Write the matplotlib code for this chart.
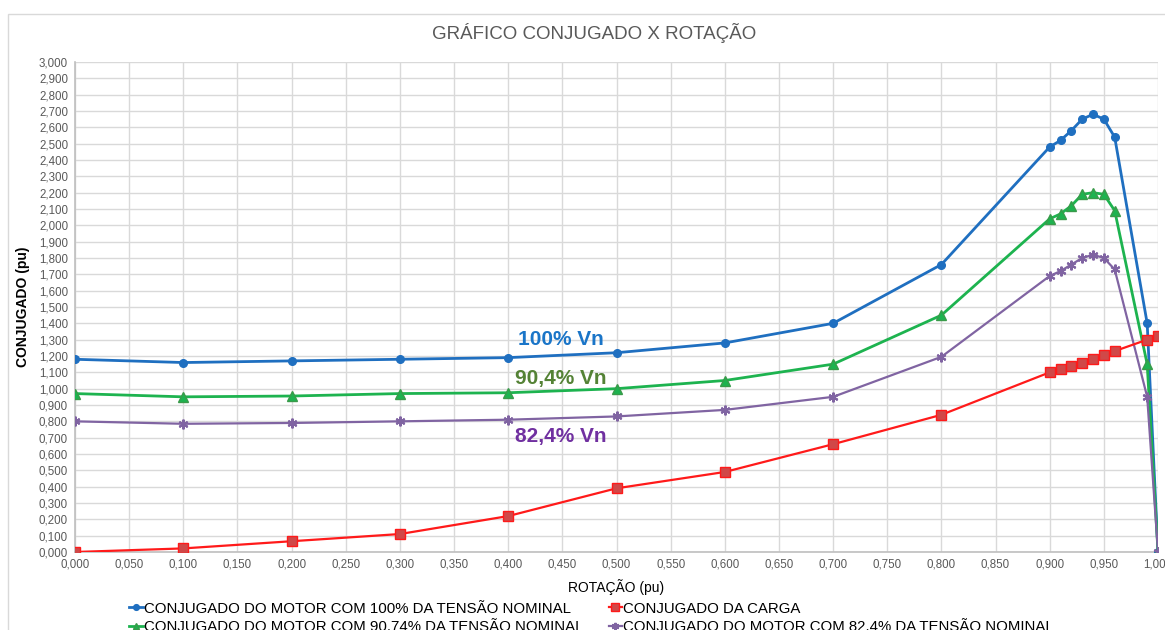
import matplotlib
matplotlib.use("Agg")
import matplotlib.pyplot as plt
from matplotlib.patches import Rectangle
from matplotlib.ticker import MultipleLocator, FuncFormatter

# Dados
rotacao = [0.0, 0.1, 0.2, 0.3, 0.4, 0.5, 0.6, 0.7, 0.8, 0.9,
           0.91, 0.92, 0.93, 0.94, 0.95, 0.96, 0.99, 1.0]
motor_100 = [1.18, 1.16, 1.17, 1.18, 1.19, 1.22, 1.28, 1.40, 1.76, 2.48,
             2.52, 2.58, 2.65, 2.68, 2.65, 2.54, 1.40, 0.0]
motor_904 = [0.97, 0.95, 0.955, 0.97, 0.975, 1.00, 1.05, 1.15, 1.45, 2.04,
             2.07, 2.12, 2.19, 2.20, 2.19, 2.09, 1.15, 0.0]
motor_824 = [0.80, 0.785, 0.79, 0.80, 0.81, 0.83, 0.87, 0.95, 1.195, 1.69,
             1.72, 1.76, 1.80, 1.82, 1.80, 1.73, 0.95, 0.0]
carga = [0.0, 0.022, 0.066, 0.11, 0.22, 0.39, 0.49, 0.66, 0.84, 1.10,
         1.12, 1.14, 1.16, 1.18, 1.205, 1.23, 1.30, 1.32]

nomes = ["CONJUGADO DO MOTOR COM 100% DA TENSÃO NOMINAL",
         "CONJUGADO DO MOTOR COM 90.74% DA TENSÃO NOMINAL",
         "CONJUGADO DA CARGA",
         "CONJUGADO DO MOTOR COM 82.4% DA TENSÃO NOMINAL"]

plt.rcParams["font.family"] = ["Liberation Sans", "DejaVu Sans"]

azul = "#1f6fc0"
verde = "#1db34f"
vermelho = "#ff1a1a"
roxo = "#8064a2"

fig = plt.figure(figsize=(11.65, 6.3), dpi=100)
ax = fig.add_axes([0.0644, 0.1238, 0.9296, 0.7778])

ax.plot(rotacao, motor_100, color=azul, lw=2, marker="o", ms=5.5, label=nomes[0], zorder=4)
ax.plot(rotacao, motor_904, color=verde, lw=2, marker="^", ms=6.5,
        markeredgecolor="#3a9a4a", label=nomes[1], zorder=4)
ax.plot(rotacao, carga, color=vermelho, lw=1.6, marker="s", ms=7,
        markerfacecolor="#d04848", markeredgecolor=vermelho, label=nomes[2], zorder=5)
ax.plot(rotacao, motor_824, color=roxo, lw=1.6, marker=(6, 2, 0), ms=7,
        markeredgewidth=1.5, label=nomes[3], zorder=4)

ax.set_xlim(0, 1.0)
ax.set_ylim(0, 3.0)
ax.xaxis.set_major_locator(MultipleLocator(0.05))
ax.yaxis.set_major_locator(MultipleLocator(0.1))
fmt = FuncFormatter(lambda v, p: f"{v:.3f}".replace(".", ","))
ax.xaxis.set_major_formatter(fmt)
ax.yaxis.set_major_formatter(fmt)
ax.tick_params(axis="both", labelsize=8.3, colors="#595959", length=0, pad=5)
ax.grid(True, color="#d9d9d9", lw=1)
ax.set_axisbelow(True)
for s in ["top", "right"]:
    ax.spines[s].set_visible(False)
for s in ["left", "bottom"]:
    ax.spines[s].set_color("#bfbfbf")
    ax.spines[s].set_linewidth(1.2)

ax.set_xlabel("ROTAÇÃO (pu)", fontsize=10, labelpad=6)
ax.set_ylabel("CONJUGADO (pu)", fontsize=10, labelpad=6, fontweight="bold")
fig.text(0.51, 0.948, "GRÁFICO CONJUGADO X ROTAÇÃO", ha="center", va="center",
         fontsize=13.5, color="#595959")

ax.text(0.409, 1.27, "100% Vn", color="#1a75c8", fontsize=15, fontweight="bold")
ax.text(0.406, 1.03, "90,4% Vn", color="#548235", fontsize=15, fontweight="bold")
ax.text(0.406, 0.675, "82,4% Vn", color="#7030a0", fontsize=15, fontweight="bold")

leg = fig.legend(loc="upper left", bbox_to_anchor=(0.111, 0.045), ncol=2, frameon=False,
                 fontsize=10.8, handlelength=0.9, handletextpad=0.05, columnspacing=1.7,
                 labelspacing=0.3, borderaxespad=0, borderpad=0, markerscale=0.75)

fig.patches.append(Rectangle((0.007, -0.05), 1.1, 1.028, transform=fig.transFigure,
                             fill=False, edgecolor="#d9d9d9", lw=1))

fig.savefig("out.png", dpi=100)
